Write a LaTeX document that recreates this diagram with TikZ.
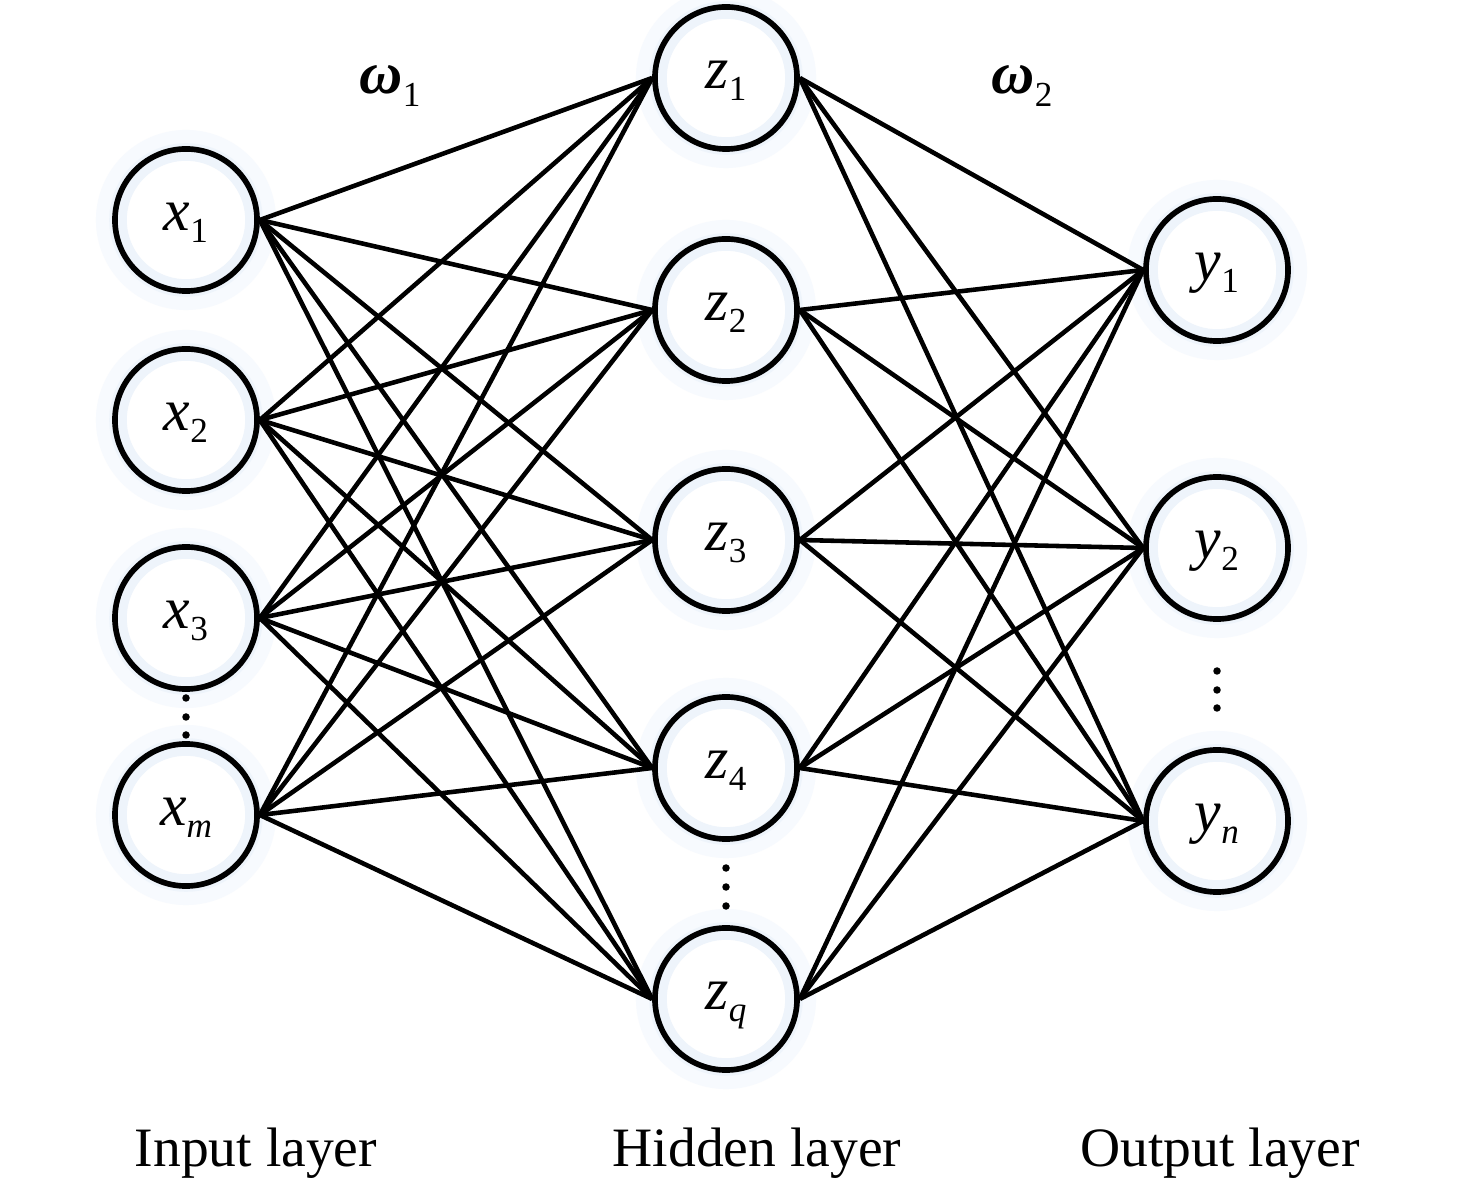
\documentclass[tikz,border=0pt]{standalone}
\usepackage{fontspec}
\setmainfont{Liberation Serif}
\definecolor{glowA}{RGB}{238,244,251}
\definecolor{glowB}{RGB}{247,250,254}
\newcommand\nlab[2]{{\fontsize{17}{19}\selectfont\itshape #1}\raisebox{-3.5pt}{\fontsize{10}{12}\selectfont #2}}
\newcommand\wlab[1]{{\fontsize{17}{19}\selectfont\bfseries\itshape ω}\raisebox{-3.5pt}{\fontsize{10}{12}\selectfont #1}}
\begin{document}
\begin{tikzpicture}[x=0.01cm,y=-0.01cm,
  neuron/.style={circle,draw=black,line width=1.6pt,minimum size=1.42cm,inner sep=0pt,text height=10pt,text depth=4pt},
  conn/.style={line width=1.3pt,black},
  glow/.style={line width=5pt,glowA},
  glowout/.style={line width=8pt,glowB},
  vdot/.style={fill=black,circle,inner sep=0pt,minimum size=0.075cm},
  layerlab/.style={anchor=base,font=\fontsize{15.8}{18}\selectfont}]
\fill[white] (0,0) rectangle (1476,1183);
\useasboundingbox (0,0) rectangle (1476,1183);
% glow
\foreach \p in {(186,220),(186,420),(186,618),(186,815),(726,78),(726,310),(726,540),(726,768),(726,999),(1217,270),(1217,548),(1217,821)}{
  \draw[glowout] \p circle (76);
  \draw[glow] \p circle (68);
}
% nodes
\node[neuron] (x1) at (186,220) {\nlab{x}{1}};
\node[neuron] (x2) at (186,420) {\nlab{x}{2}};
\node[neuron] (x3) at (186,618) {\nlab{x}{3}};
\node[neuron] (xm) at (186,815) {\nlab{x}{\itshape m}};
\node[neuron] (z1) at (726,78) {\nlab{z}{1}};
\node[neuron] (z2) at (726,310) {\nlab{z}{2}};
\node[neuron] (z3) at (726,540) {\nlab{z}{3}};
\node[neuron] (z4) at (726,768) {\nlab{z}{4}};
\node[neuron] (zq) at (726,999) {\nlab{z}{\itshape q}};
\node[neuron] (y1) at (1217,270) {\nlab{y}{1}};
\node[neuron] (y2) at (1217,548) {\nlab{y}{2}};
\node[neuron] (yn) at (1217,821) {\nlab{y}{\itshape n}};
% connections
\foreach \a in {x1,x2,x3,xm}{
  \foreach \b in {z1,z2,z3,z4,zq}{
    \draw[conn] (\a.east) -- (\b.west);
  }
}
\foreach \a in {z1,z2,z3,z4,zq}{
  \foreach \b in {y1,y2,yn}{
    \draw[conn] (\a.east) -- (\b.west);
  }
}
% dots
\node[vdot] (dx1) at (186,698) {};
\node[vdot] (dx2) at (186,717) {};
\node[vdot] (dx3) at (186,735) {};
\node[vdot] (dz1) at (726,868) {};
\node[vdot] (dz2) at (726,887) {};
\node[vdot] (dz3) at (726,906) {};
\node[vdot] (dy1) at (1217,671) {};
\node[vdot] (dy2) at (1217,690) {};
\node[vdot] (dy3) at (1217,708) {};
% weight labels
\node (w1) at (390,86) {\wlab{1}};
\node (w2) at (1022,86) {\wlab{2}};
% layer labels
\node[layerlab] (li) at (256,1166) {Input layer};
\node[layerlab] (lh) at (757,1166) {Hidden layer};
\node[layerlab] (lo) at (1220,1166) {Output layer};
\end{tikzpicture}
\end{document}
